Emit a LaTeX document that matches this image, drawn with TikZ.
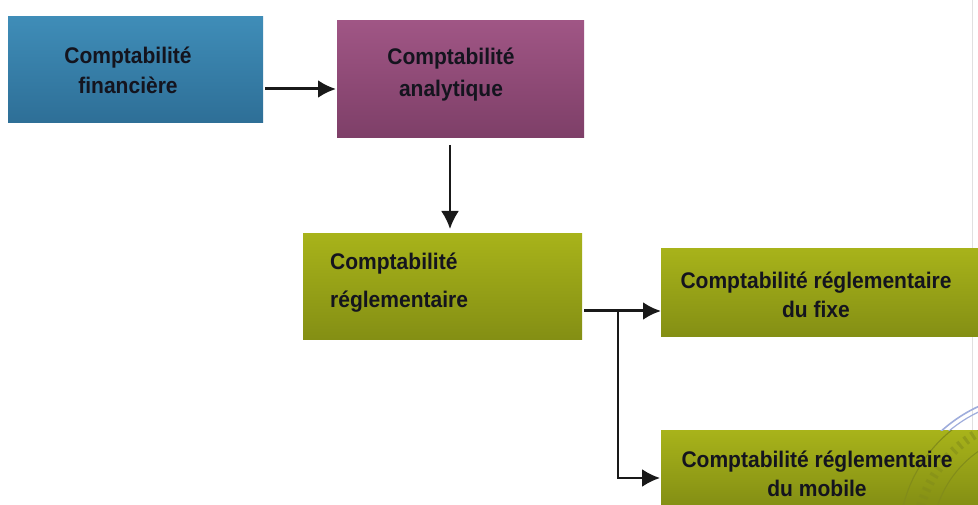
\documentclass[tikz,border=0pt]{standalone}
\usepackage{fontspec}
\setmainfont{Liberation Sans}[FakeStretch=0.93]
\usetikzlibrary{arrows.meta,shadings}
\definecolor{bluetop}{HTML}{3F8DB8}
\definecolor{bluebot}{HTML}{2E6F97}
\definecolor{purtop}{HTML}{A05685}
\definecolor{purbot}{HTML}{7E3F68}
\definecolor{grntop}{HTML}{A8B31A}
\definecolor{grnbot}{HTML}{848F14}
\definecolor{inktext}{HTML}{14141E}
\definecolor{stampblue}{HTML}{9FADDC}
\definecolor{stampolive}{HTML}{828C1A}
\tikzset{
  x=1pt,y=-1pt,
  boxbase/.style={anchor=north west,inner sep=0pt},
  bluebox/.style={boxbase,top color=bluetop,bottom color=bluebot},
  purplebox/.style={boxbase,top color=purtop,bottom color=purbot},
  greenbox/.style={boxbase,top color=grntop,bottom color=grnbot},
  boxtext/.style={font=\fontsize{22.6}{#1}\selectfont\bfseries,text=inktext,align=center,inner sep=0pt},
  link/.style={line width=3pt,draw=black!90,-{Latex[length=18pt,width=18pt]}},
  thinlink/.style={line width=2.4pt,draw=black!90,-{Latex[length=18pt,width=18pt]}},
}
\begin{document}
\begin{tikzpicture}
\useasboundingbox (0,0) rectangle (978,505);
\fill[white] (0,0) rectangle (978,505);
\draw[black!12,line width=0.8pt] (972,0) -- (972,505);
\node[bluebox,minimum width=255pt,minimum height=106pt] (fin) at (8,16) {};
\node[boxtext=30pt] (fintext) at (128,70) {Comptabilité\\financière};
\node[purplebox,minimum width=247pt,minimum height=117pt] (ana) at (337,20) {};
\node[boxtext=32pt] (anatext) at (451,75) {Comptabilité\\analytique};
\node[greenbox,minimum width=279pt,minimum height=106pt] (reg) at (303,233) {};
\node[boxtext=38pt,align=left,anchor=west] (regtext) at (330,283) {Comptabilité\\réglementaire};
\node[greenbox,minimum width=317pt,minimum height=88pt] (fix) at (661,248) {};
\node[boxtext=29pt] (fixtext) at (816,295) {Comptabilité réglementaire\\du fixe};
\node[greenbox,minimum width=317pt,minimum height=75pt] (mob) at (661,430) {};
\begin{scope}
\clip (850,395) rectangle (978,430);
\draw[stampblue,line width=1.6pt] (1040,540) circle (147);
\draw[stampblue,line width=1.2pt] (1040,540) circle (142);
\end{scope}
\begin{scope}
\clip (850,430) rectangle (978,505);
\draw[stampolive,line width=1.1pt] (1040,540) circle (141);
\draw[stampolive,line width=1pt] (1040,540) circle (108);
\draw[stampolive,line width=9pt,dash pattern=on 3pt off 5pt,opacity=.55] (1040,540) circle (124);
\end{scope}
\node[boxtext=29pt] (mobtext) at (817,474) {Comptabilité réglementaire\\du mobile};
\coordinate (finout) at (265,89);
\coordinate (anain) at (336,89);
\coordinate (anaout) at (450,145);
\coordinate (regin) at (450,229);
\coordinate (regout) at (584,311);
\coordinate (fixin) at (661,311);
\coordinate (jn) at (618,311);
\coordinate (corner) at (618,478);
\coordinate (mobin) at (660,478);
\draw[link] (finout) -- (anain);
\draw[thinlink] (anaout) -- (regin);
\draw[link] (regout) -- (fixin);
\draw[thinlink] (jn) -- (corner) -- (mobin);
\end{tikzpicture}
\end{document}
